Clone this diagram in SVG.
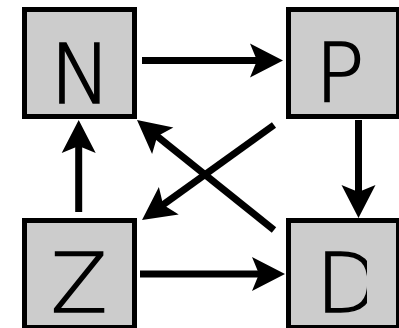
<svg xmlns="http://www.w3.org/2000/svg" width="399" height="328" viewBox="0 0 399 328">
<style>
.box{fill:#cccccc;stroke:#000;stroke-width:5}
.lbl{font-family:"DejaVu Sans",sans-serif;font-weight:200;font-size:82px;fill:#000;stroke:#000;stroke-width:1.6}
.edge{stroke:#000;stroke-width:7;fill:none;marker-end:url(#ah)}
</style>
<defs>
<marker id="ah" markerUnits="userSpaceOnUse" viewBox="-20 -18 36 36" refX="0" refY="0" markerWidth="36" markerHeight="36" orient="auto" overflow="visible">
<path d="M15,0 L-18,-17 L-11,0 L-18,17 Z" fill="#000"/>
</marker>
<clipPath id="clipD"><rect x="0" y="0" width="367" height="328"/></clipPath>
</defs>
<rect width="399" height="328" fill="#fff"/>
<g id="N"><rect class="box" x="24.5" y="9.5" width="110" height="107"/><text class="lbl" x="50" y="103">N</text></g>
<g id="P"><rect class="box" x="288.5" y="9.5" width="110" height="107"/><text class="lbl" x="315" y="102">P</text></g>
<g id="Z"><rect class="box" x="24.5" y="220.5" width="110" height="107"/><text class="lbl" x="51" y="312">Z</text></g>
<g id="D"><rect class="box" x="288.5" y="220.5" width="110" height="107"/><text class="lbl" x="316" y="312" clip-path="url(#clipD)">D</text></g>
<g id="connectors">
<line class="edge" x1="142" y1="60.5" x2="268" y2="60.5"/>
<line class="edge" x1="358.5" y1="120" x2="358.5" y2="203"/>
<line class="edge" x1="78.7" y1="212" x2="78.7" y2="135"/>
<line class="edge" x1="140" y1="274" x2="270" y2="274"/>
<line class="edge" x1="274" y1="125" x2="154.2" y2="211.2"/>
<line class="edge" x1="274" y1="230" x2="148.7" y2="129.4"/>
</g>
</svg>
